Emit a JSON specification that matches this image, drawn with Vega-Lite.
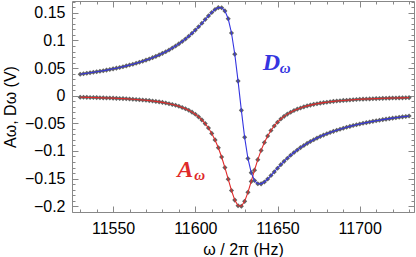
{
  "$schema": "https://vega.github.io/schema/vega-lite/v6.json",
  "width": 342,
  "height": 211,
  "autosize": {"type": "none"},
  "padding": {"left": 72, "top": 1, "right": 2, "bottom": 45},
  "config": {
    "view": {"stroke": "#888", "strokeWidth": 1},
    "font": "Liberation Sans",
    "axis": {"grid": false, "domain": false, "labelFont": "Liberation Sans", "titleFont": "Liberation Sans", "labelColor": "black", "titleColor": "black", "tickColor": "#888", "titleFontWeight": "normal"}
  },
  "datasets": {
    "curves": [
      {"f":11530,"A":-0.0027,"D":0.0390},{"f":11532,"A":-0.0028,"D":0.0398},{"f":11534,"A":-0.0029,"D":0.0406},{"f":11536,"A":-0.0031,"D":0.0415},
      {"f":11538,"A":-0.0032,"D":0.0424},{"f":11540,"A":-0.0034,"D":0.0433},{"f":11542,"A":-0.0036,"D":0.0443},{"f":11544,"A":-0.0038,"D":0.0453},
      {"f":11546,"A":-0.0040,"D":0.0464},{"f":11548,"A":-0.0042,"D":0.0475},{"f":11550,"A":-0.0044,"D":0.0487},{"f":11552,"A":-0.0047,"D":0.0499},
      {"f":11554,"A":-0.0049,"D":0.0512},{"f":11556,"A":-0.0052,"D":0.0526},{"f":11558,"A":-0.0055,"D":0.0540},{"f":11560,"A":-0.0059,"D":0.0555},
      {"f":11562,"A":-0.0063,"D":0.0571},{"f":11564,"A":-0.0067,"D":0.0588},{"f":11566,"A":-0.0072,"D":0.0606},{"f":11568,"A":-0.0077,"D":0.0625},
      {"f":11570,"A":-0.0082,"D":0.0645},{"f":11572,"A":-0.0088,"D":0.0666},{"f":11574,"A":-0.0095,"D":0.0689},{"f":11576,"A":-0.0103,"D":0.0713},
      {"f":11578,"A":-0.0111,"D":0.0739},{"f":11580,"A":-0.0121,"D":0.0767},{"f":11582,"A":-0.0132,"D":0.0797},{"f":11584,"A":-0.0144,"D":0.0829},
      {"f":11586,"A":-0.0158,"D":0.0863},{"f":11588,"A":-0.0173,"D":0.0900},{"f":11590,"A":-0.0191,"D":0.0939},{"f":11592,"A":-0.0212,"D":0.0982},
      {"f":11594,"A":-0.0236,"D":0.1028},{"f":11596,"A":-0.0264,"D":0.1077},{"f":11598,"A":-0.0297,"D":0.1131},{"f":11600,"A":-0.0336,"D":0.1188},
      {"f":11602,"A":-0.0383,"D":0.1248},{"f":11604,"A":-0.0438,"D":0.1312},{"f":11606,"A":-0.0505,"D":0.1379},{"f":11608,"A":-0.0585,"D":0.1445},
      {"f":11610,"A":-0.0682,"D":0.1508},{"f":11612,"A":-0.0800,"D":0.1561},{"f":11614,"A":-0.0942,"D":0.1595},{"f":11616,"A":-0.1109,"D":0.1594},
      {"f":11618,"A":-0.1301,"D":0.1536},{"f":11620,"A":-0.1510,"D":0.1393},{"f":11622,"A":-0.1716,"D":0.1136},{"f":11624,"A":-0.1890,"D":0.0753},
      {"f":11626,"A":-0.1993,"D":0.0265},{"f":11628,"A":-0.2001,"D":-0.0265},{"f":11630,"A":-0.1912,"D":-0.0753},{"f":11632,"A":-0.1749,"D":-0.1136},
      {"f":11634,"A":-0.1551,"D":-0.1393},{"f":11636,"A":-0.1347,"D":-0.1536},{"f":11638,"A":-0.1157,"D":-0.1594},{"f":11640,"A":-0.0990,"D":-0.1595},
      {"f":11642,"A":-0.0848,"D":-0.1561},{"f":11644,"A":-0.0728,"D":-0.1508},{"f":11646,"A":-0.0629,"D":-0.1445},{"f":11648,"A":-0.0547,"D":-0.1379},
      {"f":11650,"A":-0.0479,"D":-0.1312},{"f":11652,"A":-0.0421,"D":-0.1248},{"f":11654,"A":-0.0373,"D":-0.1188},{"f":11656,"A":-0.0333,"D":-0.1131},
      {"f":11658,"A":-0.0298,"D":-0.1077},{"f":11660,"A":-0.0268,"D":-0.1028},{"f":11662,"A":-0.0243,"D":-0.0982},{"f":11664,"A":-0.0221,"D":-0.0939},
      {"f":11666,"A":-0.0201,"D":-0.0900},{"f":11668,"A":-0.0184,"D":-0.0863},{"f":11670,"A":-0.0170,"D":-0.0829},{"f":11672,"A":-0.0156,"D":-0.0797},
      {"f":11674,"A":-0.0145,"D":-0.0767},{"f":11676,"A":-0.0134,"D":-0.0739},{"f":11678,"A":-0.0125,"D":-0.0713},{"f":11680,"A":-0.0117,"D":-0.0689},
      {"f":11682,"A":-0.0109,"D":-0.0666},{"f":11684,"A":-0.0102,"D":-0.0645},{"f":11686,"A":-0.0096,"D":-0.0625},{"f":11688,"A":-0.0091,"D":-0.0606},
      {"f":11690,"A":-0.0085,"D":-0.0588},{"f":11692,"A":-0.0081,"D":-0.0571},{"f":11694,"A":-0.0076,"D":-0.0555},{"f":11696,"A":-0.0072,"D":-0.0540},
      {"f":11698,"A":-0.0069,"D":-0.0526},{"f":11700,"A":-0.0065,"D":-0.0512},{"f":11702,"A":-0.0062,"D":-0.0499},{"f":11704,"A":-0.0059,"D":-0.0487},
      {"f":11706,"A":-0.0057,"D":-0.0475},{"f":11708,"A":-0.0054,"D":-0.0464},{"f":11710,"A":-0.0052,"D":-0.0453},{"f":11712,"A":-0.0050,"D":-0.0443},
      {"f":11714,"A":-0.0047,"D":-0.0433},{"f":11716,"A":-0.0046,"D":-0.0424},{"f":11718,"A":-0.0044,"D":-0.0415},{"f":11720,"A":-0.0042,"D":-0.0406},
      {"f":11722,"A":-0.0040,"D":-0.0398},{"f":11724,"A":-0.0039,"D":-0.0390},{"f":11726,"A":-0.0038,"D":-0.0382},{"f":11728,"A":-0.0036,"D":-0.0375},
      {"f":11730,"A":-0.0035,"D":-0.0368}
    ],
    "labels": [
      {"f": 11589, "v": -0.147, "t": "A", "sub": "ω", "s": "A"},
      {"f": 11641, "v": 0.047, "t": "D", "sub": "ω", "s": "D"}
    ]
  },
  "resolve": {"axis": {"x": "independent", "y": "independent"}},
  "layer": [
    {
      "mark": {"type": "rule", "color": "#999", "strokeWidth": 1},
      "encoding": {
        "y": {"datum": 0, "type": "quantitative", "scale": {"domain": [-0.2105, 0.1715], "nice": false, "zero": false}, "axis": null}
      }
    },
    {
      "data": {"name": "curves"},
      "transform": [{"fold": ["A", "D"], "as": ["s", "v"]}],
      "mark": {"type": "point", "shape": "diamond", "filled": true, "size": 26, "color": "#626262", "opacity": 1},
      "encoding": {
        "x": {"field": "f", "type": "quantitative", "scale": {"domain": [11525, 11733], "nice": false, "zero": false},
              "axis": {"orient": "bottom", "values": [11550, 11600, 11650, 11700], "labels": false, "tickSize": -6, "title": null}},
        "y": {"field": "v", "type": "quantitative", "scale": {"domain": [-0.2105, 0.1715], "nice": false, "zero": false},
              "axis": {"orient": "left", "values": [-0.2, -0.15, -0.1, -0.05, 0, 0.05, 0.1, 0.15], "labels": false, "tickSize": -6, "title": null}}
      }
    },
    {
      "data": {"name": "curves"},
      "transform": [{"fold": ["A", "D"], "as": ["s", "v"]}],
      "mark": {"type": "line", "strokeWidth": 1.1},
      "encoding": {
        "x": {"field": "f", "type": "quantitative", "scale": {"domain": [11525, 11733], "nice": false, "zero": false},
              "axis": {"orient": "bottom", "values": [11550, 11600, 11650, 11700], "format": "d", "ticks": false, "labelFontSize": 16, "labelPadding": 8, "title": "ω / 2π (Hz)", "titleFontSize": 16, "titlePadding": 5}},
        "y": {"field": "v", "type": "quantitative", "scale": {"domain": [-0.2105, 0.1715], "nice": false, "zero": false},
              "axis": {"orient": "left", "values": [-0.2, -0.15, -0.1, -0.05, 0, 0.05, 0.1, 0.15], "format": "~g", "ticks": false, "labelFontSize": 16, "labelPadding": 7, "title": "Aω, Dω (V)", "titleFontSize": 16, "titlePadding": 6}},
        "color": {"field": "s", "type": "nominal", "scale": {"domain": ["A", "D"], "range": ["#e02a2a", "#3535e0"]}, "legend": null},
        "detail": {"field": "s"}
      }
    },
    {
      "data": {"name": "labels"},
      "mark": {"type": "text", "font": "Liberation Serif", "fontStyle": "italic", "fontWeight": "bold", "fontSize": 24, "align": "left", "baseline": "alphabetic"},
      "encoding": {
        "x": {"field": "f", "type": "quantitative", "scale": {"domain": [11525, 11733], "nice": false, "zero": false},
              "axis": {"orient": "top", "values": [11550, 11600, 11650, 11700], "labels": false, "tickSize": -6, "title": null}},
        "y": {"field": "v", "type": "quantitative", "scale": {"domain": [-0.2105, 0.1715], "nice": false, "zero": false},
              "axis": {"orient": "right", "values": [-0.2, -0.15, -0.1, -0.05, 0, 0.05, 0.1, 0.15], "labels": false, "tickSize": -6, "title": null}},
        "text": {"field": "t"},
        "color": {"field": "s", "type": "nominal", "scale": {"domain": ["A", "D"], "range": ["#e02a2a", "#3535e0"]}, "legend": null}
      }
    },
    {
      "data": {"name": "labels"},
      "mark": {"type": "text", "font": "Liberation Serif", "fontStyle": "italic", "fontWeight": "bold", "fontSize": 15, "align": "left", "baseline": "alphabetic", "dx": 17, "dy": 3},
      "encoding": {
        "x": {"field": "f", "type": "quantitative", "scale": {"domain": [11525, 11733], "nice": false, "zero": false},
              "axis": {"orient": "bottom", "values": [11530, 11540, 11560, 11570, 11580, 11590, 11610, 11620, 11630, 11640, 11660, 11670, 11680, 11690, 11710, 11720, 11730], "labels": false, "tickSize": -3, "title": null}},
        "y": {"field": "v", "type": "quantitative", "scale": {"domain": [-0.2105, 0.1715], "nice": false, "zero": false},
              "axis": {"orient": "left", "values": [-0.21, -0.19, -0.18, -0.17, -0.16, -0.14, -0.13, -0.12, -0.11, -0.09, -0.08, -0.07, -0.06, -0.04, -0.03, -0.02, -0.01, 0.01, 0.02, 0.03, 0.04, 0.06, 0.07, 0.08, 0.09, 0.11, 0.12, 0.13, 0.14, 0.16, 0.17], "labels": false, "tickSize": -3, "title": null}},
        "text": {"field": "sub"},
        "color": {"field": "s", "type": "nominal", "scale": {"domain": ["A", "D"], "range": ["#e02a2a", "#3535e0"]}, "legend": null}
      }
    },
    {
      "data": {"name": "labels"},
      "mark": {"type": "point", "opacity": 0},
      "encoding": {
        "x": {"field": "f", "type": "quantitative", "scale": {"domain": [11525, 11733], "nice": false, "zero": false},
              "axis": {"orient": "top", "values": [11530, 11540, 11560, 11570, 11580, 11590, 11610, 11620, 11630, 11640, 11660, 11670, 11680, 11690, 11710, 11720, 11730], "labels": false, "tickSize": -3, "title": null}},
        "y": {"field": "v", "type": "quantitative", "scale": {"domain": [-0.2105, 0.1715], "nice": false, "zero": false},
              "axis": {"orient": "right", "values": [-0.21, -0.19, -0.18, -0.17, -0.16, -0.14, -0.13, -0.12, -0.11, -0.09, -0.08, -0.07, -0.06, -0.04, -0.03, -0.02, -0.01, 0.01, 0.02, 0.03, 0.04, 0.06, 0.07, 0.08, 0.09, 0.11, 0.12, 0.13, 0.14, 0.16, 0.17], "labels": false, "tickSize": -3, "title": null}}
      }
    }
  ]
}
